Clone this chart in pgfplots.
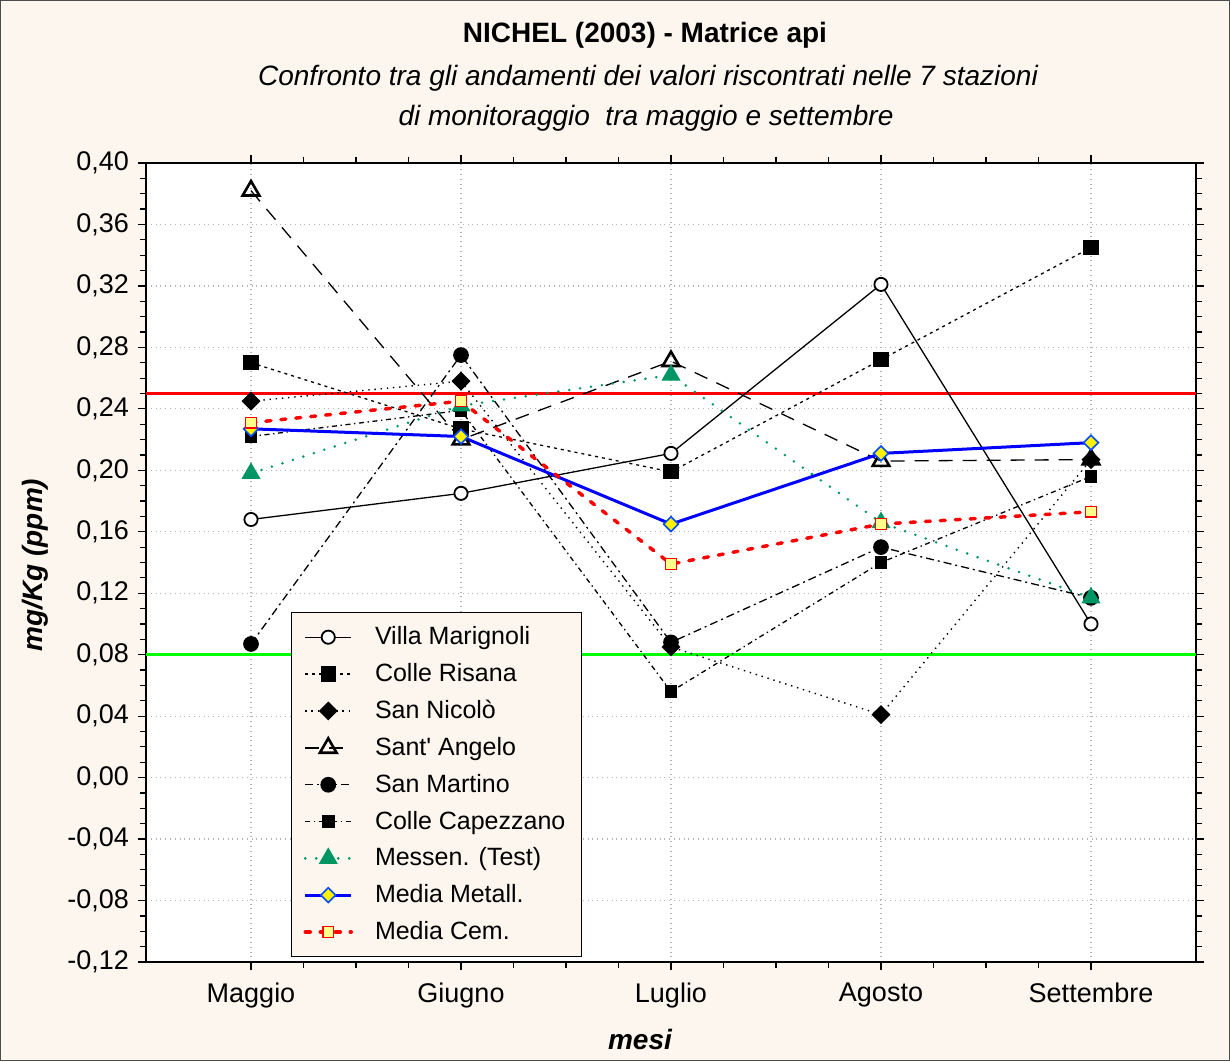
\documentclass[border=0pt]{standalone}
\usepackage{fontspec}
\setmainfont{Liberation Sans}
\usepackage{pgfplots}
\pgfplotsset{compat=1.18}
\definecolor{cream}{RGB}{253,246,239}
\definecolor{mgreen}{RGB}{0,150,100}
\definecolor{lyellow}{RGB}{255,255,140}
\begin{document}
\begin{tikzpicture}
\fill[cream] (0,0) rectangle (615pt,530.5pt);
\draw[black!70, line width=0.6pt] (0.3pt,0.3pt) rectangle (614.7pt,530.2pt);
\node[anchor=base, font=\fontsize{14}{16}\selectfont\bfseries] at (322.5pt,509pt) {NICHEL (2003) - Matrice api};
\node[anchor=base, font=\fontsize{14}{16}\selectfont\itshape] at (324pt,487.5pt) {Confronto tra gli andamenti dei valori riscontrati nelle 7 stazioni};
\node[anchor=base, font=\fontsize{14}{16}\selectfont\itshape] at (323pt,467.5pt) {di monitoraggio\ \ tra maggio e settembre};
\node[rotate=90, font=\fontsize{14}{16}\selectfont\bfseries\itshape] at (17.5pt,248pt) {mg/Kg (ppm)};
\node[anchor=base, font=\fontsize{14}{16}\selectfont\bfseries\itshape] at (320pt,6pt) {mesi};
\begin{axis}[
  at={(73pt,49.5pt)}, anchor=south west,
  scale only axis, width=525pt, height=399.5pt,
  xmin=-0.5, xmax=4.5, ymin=-0.12, ymax=0.40,
  axis background/.style={fill=white},
  xtick={0,1,2,3,4},
  xticklabels={Maggio,Giugno,Luglio,Agosto,Settembre},
  minor x tick num=3,
  ytick={-0.12,-0.08,-0.04,0,0.04,0.08,0.12,0.16,0.20,0.24,0.28,0.32,0.36,0.40},
  yticklabels={{-0,12},{-0,08},{-0,04},{0,00},{0,04},{0,08},{0,12},{0,16},{0,20},{0,24},{0,28},{0,32},{0,36},{0,40}},
  minor y tick num=3,
  tick align=outside,
  xtick pos=both, ytick pos=both,
  major tick length=4pt, minor tick length=3pt,
  tick style={black, line width=0.6pt},
  axis line style={black, line width=0.8pt},
  grid=major,
  major grid style={gray!60, dotted, line width=0.6pt},
  ticklabel style={font=\fontsize{13.5}{16}\selectfont},
  xticklabel style={yshift=-3pt},
  yticklabel style={xshift=-1pt},
  legend style={at={(0.138,0.438)}, anchor=north west, fill=cream, draw=black, line width=0.6pt,
    font=\fontsize{12.5}{15}\selectfont, row sep=3.85pt, inner xsep=6pt, inner ysep=5pt},
  legend cell align=left,
  legend image code/.code={\draw[mark repeat=2,mark phase=2,#1] plot coordinates {(0pt,0pt)(11.5pt,0pt)(23pt,0pt)}; \path (32pt,0pt);},
  every axis legend/.append style={nodes={right}},
]
\addplot[red, line width=1.5pt, forget plot] coordinates {(-0.5,0.25)(4.5,0.25)};
\addplot[green, line width=1.5pt, forget plot] coordinates {(-0.5,0.08)(4.5,0.08)};
% Villa Marignoli
\addplot[black, line width=0.65pt, mark=*, mark size=3.3pt, mark options={fill=white, solid, line width=0.9pt}]
  coordinates {(0,0.168)(1,0.185)(2,0.211)(3,0.321)(4,0.100)};
\addlegendentry{Villa Marignoli}
% Colle Risana
\addplot[black, line width=0.65pt, dash pattern=on 1.5pt off 2pt, mark=square*, mark size=3.5pt, mark options={solid}]
  coordinates {(0,0.270)(1,0.227)(2,0.199)(3,0.272)(4,0.345)};
\addlegendentry{Colle Risana}
% San Nicolo
\addplot[black, line width=0.7pt, dash pattern=on 0.7pt off 2.4pt, mark=square*, mark size=3pt, mark options={solid, rotate=45}]
  coordinates {(0,0.245)(1,0.258)(2,0.085)(3,0.041)(4,0.207)};
\addlegendentry{San Nicolò}
% Sant' Angelo
\addplot[black, line width=0.65pt, dash pattern=on 7pt off 5pt, mark=triangle, mark size=4.8pt, mark options={solid, fill=white, line width=1.3pt}]
  coordinates {(0,0.382)(1,0.220)(2,0.271)(3,0.206)(4,0.207)};
\addlegendentry{Sant\textquotesingle\ Angelo}
% San Martino
\addplot[black, line width=0.65pt, dash pattern=on 4pt off 2pt on 1pt off 2pt, mark=*, mark size=3.6pt, mark options={solid}]
  coordinates {(0,0.087)(1,0.275)(2,0.088)(3,0.150)(4,0.117)};
\addlegendentry{San Martino}
% Colle Capezzano
\addplot[black, line width=0.65pt, dash pattern=on 2.5pt off 1.8pt on 0.7pt off 1.8pt, mark=square*, mark size=2.8pt, mark options={solid}]
  coordinates {(0,0.222)(1,0.239)(2,0.056)(3,0.140)(4,0.196)};
\addlegendentry{Colle Capezzano}
% Messen. (Test)
\addplot[mgreen, line width=1.4pt, line cap=round, dash pattern=on 0pt off 5.5pt, mark=triangle*, mark size=5pt, mark options={solid, fill=mgreen, draw=mgreen, line width=0.5pt}]
  coordinates {(0,0.198)(1,0.242)(2,0.262)(3,0.166)(4,0.117)};
\addlegendentry{Messen. (Test)}
% Media Metall.
\addplot[blue, line width=1.5pt, mark=square*, mark size=2.6pt, mark options={solid, rotate=45, fill=yellow, draw=blue!70!cyan, line width=0.8pt}]
  coordinates {(0,0.227)(1,0.222)(2,0.165)(3,0.211)(4,0.218)};
\addlegendentry{Media Metall.}
% Media Cem.
\addplot[red, line width=1.75pt, line cap=round, dash pattern=on 2.5pt off 5pt, mark=square*, mark size=2.7pt, mark options={solid, fill=lyellow, draw=red, line width=0.7pt}]
  coordinates {(0,0.231)(1,0.245)(2,0.139)(3,0.165)(4,0.173)};
\addlegendentry{Media Cem.}
\end{axis}
\end{tikzpicture}
\end{document}
